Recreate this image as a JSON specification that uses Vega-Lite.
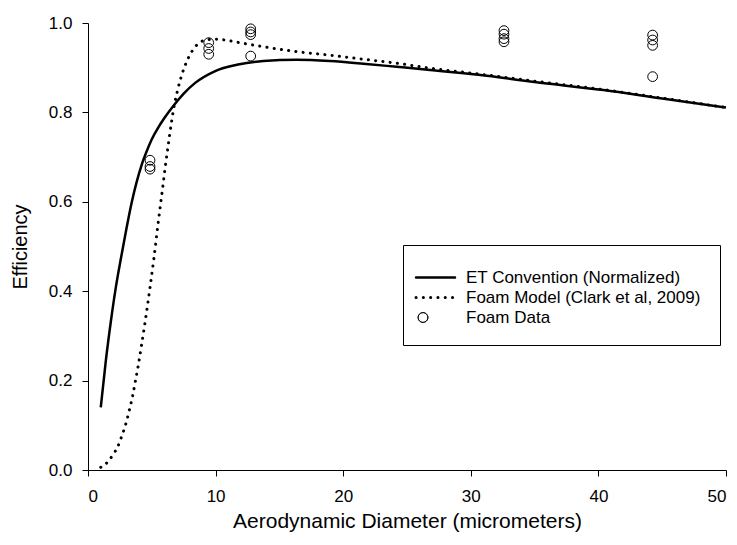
{
  "$schema": "https://vega.github.io/schema/vega-lite/v6.json",
  "autosize": {"type": "none"},
  "padding": {"left": 88, "top": 23, "right": 11, "bottom": 75},
  "width": 638,
  "height": 447,
  "background": "white",
  "config": {
    "view": {"stroke": null},
    "font": "Liberation Sans",
    "axis": {
      "grid": false,
      "domainColor": "black",
      "domainWidth": 1,
      "tickColor": "black",
      "tickWidth": 1,
      "tickSize": 6,
      "labelColor": "black",
      "titleColor": "black",
      "labelFont": "Liberation Sans",
      "titleFont": "Liberation Sans",
      "labelFontSize": 17,
      "titleFontWeight": "normal"
    }
  },
  "data": {
    "values": [
      {"series": "ET Convention (Normalized)", "d": 1.0, "eff": 0.14},
      {"series": "ET Convention (Normalized)", "d": 1.4, "eff": 0.245},
      {"series": "ET Convention (Normalized)", "d": 1.78, "eff": 0.33},
      {"series": "ET Convention (Normalized)", "d": 2.2, "eff": 0.412},
      {"series": "ET Convention (Normalized)", "d": 2.61, "eff": 0.478},
      {"series": "ET Convention (Normalized)", "d": 3.0, "eff": 0.538},
      {"series": "ET Convention (Normalized)", "d": 3.42, "eff": 0.598},
      {"series": "ET Convention (Normalized)", "d": 3.8, "eff": 0.643},
      {"series": "ET Convention (Normalized)", "d": 4.2, "eff": 0.682},
      {"series": "ET Convention (Normalized)", "d": 4.6, "eff": 0.713},
      {"series": "ET Convention (Normalized)", "d": 5.0, "eff": 0.74},
      {"series": "ET Convention (Normalized)", "d": 5.5, "eff": 0.766},
      {"series": "ET Convention (Normalized)", "d": 6.0, "eff": 0.788},
      {"series": "ET Convention (Normalized)", "d": 6.7, "eff": 0.815},
      {"series": "ET Convention (Normalized)", "d": 7.5, "eff": 0.842},
      {"series": "ET Convention (Normalized)", "d": 8.4, "eff": 0.866},
      {"series": "ET Convention (Normalized)", "d": 9.93, "eff": 0.892},
      {"series": "ET Convention (Normalized)", "d": 11.76, "eff": 0.907},
      {"series": "ET Convention (Normalized)", "d": 13.74, "eff": 0.915},
      {"series": "ET Convention (Normalized)", "d": 16.35, "eff": 0.918},
      {"series": "ET Convention (Normalized)", "d": 18.97, "eff": 0.915},
      {"series": "ET Convention (Normalized)", "d": 21.58, "eff": 0.909},
      {"series": "ET Convention (Normalized)", "d": 24.2, "eff": 0.902},
      {"series": "ET Convention (Normalized)", "d": 26.8, "eff": 0.895},
      {"series": "ET Convention (Normalized)", "d": 30.6, "eff": 0.884},
      {"series": "ET Convention (Normalized)", "d": 35.0, "eff": 0.868},
      {"series": "ET Convention (Normalized)", "d": 40.4, "eff": 0.85},
      {"series": "ET Convention (Normalized)", "d": 45.0, "eff": 0.831},
      {"series": "ET Convention (Normalized)", "d": 50.0, "eff": 0.811},
      {"series": "Foam Model (Clark et al, 2009)", "d": 1.0, "eff": 0.006},
      {"series": "Foam Model (Clark et al, 2009)", "d": 1.57, "eff": 0.019},
      {"series": "Foam Model (Clark et al, 2009)", "d": 2.0, "eff": 0.036},
      {"series": "Foam Model (Clark et al, 2009)", "d": 2.33, "eff": 0.052},
      {"series": "Foam Model (Clark et al, 2009)", "d": 2.56, "eff": 0.069},
      {"series": "Foam Model (Clark et al, 2009)", "d": 2.93, "eff": 0.1},
      {"series": "Foam Model (Clark et al, 2009)", "d": 3.24, "eff": 0.134},
      {"series": "Foam Model (Clark et al, 2009)", "d": 3.5, "eff": 0.166},
      {"series": "Foam Model (Clark et al, 2009)", "d": 3.71, "eff": 0.198},
      {"series": "Foam Model (Clark et al, 2009)", "d": 3.94, "eff": 0.234},
      {"series": "Foam Model (Clark et al, 2009)", "d": 4.2, "eff": 0.28},
      {"series": "Foam Model (Clark et al, 2009)", "d": 4.47, "eff": 0.33},
      {"series": "Foam Model (Clark et al, 2009)", "d": 4.86, "eff": 0.408},
      {"series": "Foam Model (Clark et al, 2009)", "d": 5.15, "eff": 0.47},
      {"series": "Foam Model (Clark et al, 2009)", "d": 5.51, "eff": 0.555},
      {"series": "Foam Model (Clark et al, 2009)", "d": 5.88, "eff": 0.638},
      {"series": "Foam Model (Clark et al, 2009)", "d": 6.06, "eff": 0.679},
      {"series": "Foam Model (Clark et al, 2009)", "d": 6.27, "eff": 0.723},
      {"series": "Foam Model (Clark et al, 2009)", "d": 6.53, "eff": 0.776},
      {"series": "Foam Model (Clark et al, 2009)", "d": 6.79, "eff": 0.82},
      {"series": "Foam Model (Clark et al, 2009)", "d": 7.05, "eff": 0.853},
      {"series": "Foam Model (Clark et al, 2009)", "d": 7.31, "eff": 0.88},
      {"series": "Foam Model (Clark et al, 2009)", "d": 7.57, "eff": 0.902},
      {"series": "Foam Model (Clark et al, 2009)", "d": 8.05, "eff": 0.932},
      {"series": "Foam Model (Clark et al, 2009)", "d": 8.44, "eff": 0.948},
      {"series": "Foam Model (Clark et al, 2009)", "d": 9.01, "eff": 0.96},
      {"series": "Foam Model (Clark et al, 2009)", "d": 9.93, "eff": 0.964},
      {"series": "Foam Model (Clark et al, 2009)", "d": 10.7, "eff": 0.962},
      {"series": "Foam Model (Clark et al, 2009)", "d": 11.5, "eff": 0.958},
      {"series": "Foam Model (Clark et al, 2009)", "d": 13.74, "eff": 0.947},
      {"series": "Foam Model (Clark et al, 2009)", "d": 16.35, "eff": 0.936},
      {"series": "Foam Model (Clark et al, 2009)", "d": 18.97, "eff": 0.928},
      {"series": "Foam Model (Clark et al, 2009)", "d": 21.58, "eff": 0.919},
      {"series": "Foam Model (Clark et al, 2009)", "d": 24.2, "eff": 0.91},
      {"series": "Foam Model (Clark et al, 2009)", "d": 26.8, "eff": 0.899},
      {"series": "Foam Model (Clark et al, 2009)", "d": 30.6, "eff": 0.886},
      {"series": "Foam Model (Clark et al, 2009)", "d": 35.0, "eff": 0.87},
      {"series": "Foam Model (Clark et al, 2009)", "d": 40.4, "eff": 0.851},
      {"series": "Foam Model (Clark et al, 2009)", "d": 45.0, "eff": 0.832},
      {"series": "Foam Model (Clark et al, 2009)", "d": 50.0, "eff": 0.811},
      {"series": "Foam Data", "d": 4.86, "eff": 0.693},
      {"series": "Foam Data", "d": 4.86, "eff": 0.679},
      {"series": "Foam Data", "d": 4.86, "eff": 0.673},
      {"series": "Foam Data", "d": 9.46, "eff": 0.956},
      {"series": "Foam Data", "d": 9.46, "eff": 0.943},
      {"series": "Foam Data", "d": 9.46, "eff": 0.93},
      {"series": "Foam Data", "d": 12.75, "eff": 0.987},
      {"series": "Foam Data", "d": 12.75, "eff": 0.98},
      {"series": "Foam Data", "d": 12.75, "eff": 0.974},
      {"series": "Foam Data", "d": 12.75, "eff": 0.926},
      {"series": "Foam Data", "d": 32.6, "eff": 0.983},
      {"series": "Foam Data", "d": 32.6, "eff": 0.975},
      {"series": "Foam Data", "d": 32.6, "eff": 0.965},
      {"series": "Foam Data", "d": 32.6, "eff": 0.958},
      {"series": "Foam Data", "d": 44.25, "eff": 0.973},
      {"series": "Foam Data", "d": 44.25, "eff": 0.962},
      {"series": "Foam Data", "d": 44.25, "eff": 0.95},
      {"series": "Foam Data", "d": 44.25, "eff": 0.88}
    ]
  },
  "encoding": {
    "x": {
      "field": "d", "type": "quantitative",
      "scale": {"domain": [0, 50], "nice": false, "zero": false},
      "axis": {"values": [0, 10, 20, 30, 40, 50], "title": "Aerodynamic Diameter (micrometers)", "labelPadding": 12, "titlePadding": 6, "titleFontSize": 21}
    },
    "y": {
      "field": "eff", "type": "quantitative",
      "scale": {"domain": [0, 1], "nice": false},
      "axis": {"values": [0, 0.2, 0.4, 0.6, 0.8, 1.0], "format": ".1f", "title": "Efficiency", "labelPadding": 10, "titlePadding": 18, "titleFontSize": 20}
    },
    "color": {
      "field": "series", "type": "nominal",
      "scale": {
        "domain": ["ET Convention (Normalized)", "Foam Model (Clark et al, 2009)", "Foam Data"],
        "range": ["black", "black", "black"]
      },
      "legend": {
        "orient": "none",
        "legendX": 315,
        "legendY": 222,
        "title": "\u00a0",
        "titleFontSize": 5,
        "titlePadding": 0,
        "padding": 19,
        "strokeColor": "black",
        "fillColor": "white",
        "labelFont": "Liberation Sans",
        "labelFontSize": 17,
        "labelColor": "black",
        "labelOffset": 27,
        "labelLimit": 400,
        "symbolType": "circle",
        "symbolSize": 289,
        "symbolStrokeWidth": 1,
        "symbolStrokeColor": "black",
        "rowPadding": 2,
        "encode": {
          "symbols": {
            "update": {
              "x": {"signal": "datum.value === 'Foam Data' ? 1 : 13.5"},
              "shape": {"signal": "datum.value === 'Foam Data' ? 'circle' : 'stroke'"},
              "size": {"signal": "datum.value === 'Foam Data' ? 95 : 1521"},
              "strokeDash": {"signal": "datum.value === 'Foam Model (Clark et al, 2009)' ? [0.1, 7.2] : [1, 0]"},
              "strokeWidth": {"signal": "datum.value === 'Foam Data' ? 1 : (datum.value === 'ET Convention (Normalized)' ? 2.5 : 3)"},
              "strokeCap": {"value": "round"},
              "fill": {"value": "transparent"},
              "stroke": {"value": "black"},
              "opacity": {"value": 1}
            }
          }
        }
      }
    }
  },
  "layer": [
    {
      "transform": [{"filter": "datum.series === 'ET Convention (Normalized)'"}],
      "mark": {"type": "line", "strokeWidth": 2.5, "interpolate": "monotone"}
    },
    {
      "transform": [{"filter": "datum.series === 'Foam Model (Clark et al, 2009)'"}],
      "mark": {"type": "line", "strokeWidth": 3, "strokeDash": [0.1, 7.2], "strokeCap": "round", "interpolate": "monotone"}
    },
    {
      "transform": [{"filter": "datum.series === 'Foam Data'"}],
      "mark": {"type": "point", "shape": "circle", "filled": false, "size": 95, "strokeWidth": 1, "opacity": 1}
    }
  ]
}
